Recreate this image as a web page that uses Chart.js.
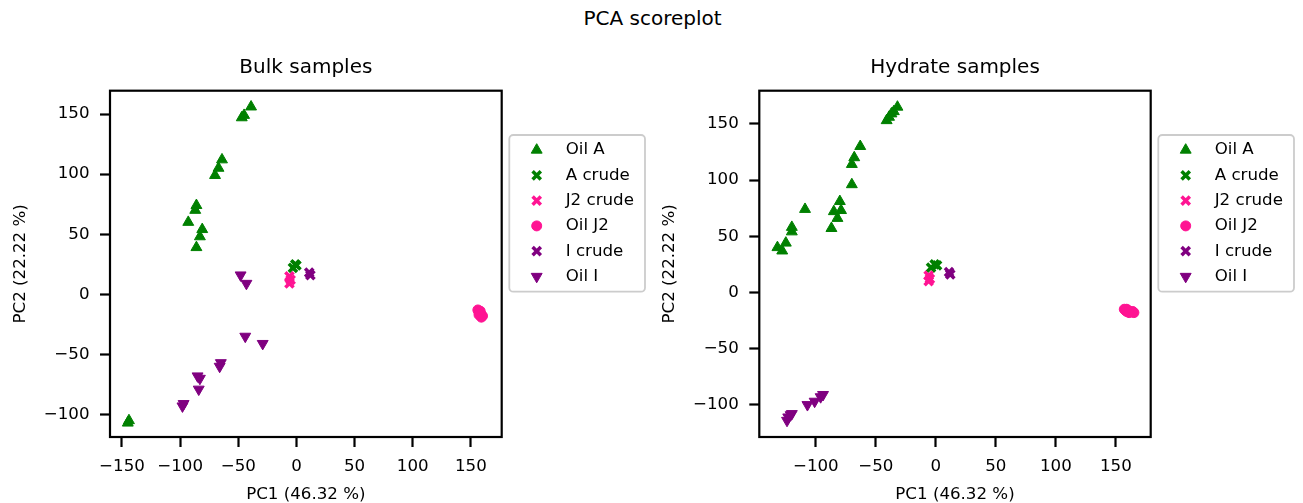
<!DOCTYPE html>
<html>
<head>
<meta charset="utf-8">
<title>PCA scoreplot</title>
<script src="https://cdn.jsdelivr.net/npm/chart.js@4.4.1/dist/chart.umd.min.js"></script>
<style>
  body { margin: 0; background: #fff; }
  #wrap { position: relative; width: 1303px; height: 503px; overflow: hidden; }
  #suptitle {
    position: absolute; left: 0; top: 6px; width: 1305px; text-align: center;
    font-family: 'DejaVu Sans', sans-serif; font-size: 20px; line-height: 24px; color: #000;
  }
  canvas { position: absolute; top: 0; }
  #bulk { left: 0; }
  #hydrate { left: 651px; }
</style>
</head>
<body>
<div id="wrap">
  <div id="suptitle">PCA scoreplot</div>
  <canvas id="bulk" width="651" height="503"></canvas>
  <canvas id="hydrate" width="652" height="503"></canvas>
</div>
<script>
'use strict';

/// DATA
let seriesNames = ['Oil A', 'A crude', 'J2 crude', 'Oil J2', 'I crude', 'Oil I'];

// Bulk samples  [PC1, PC2]
let bulkOilA = [[-39, 156], [-45, 149], [-47, 147], [-64, 112], [-67, 105], [-70, 99],
  [-86, 74], [-87, 70], [-93, 60], [-81, 54], [-83, 48], [-86, 39], [-144, -105], [-145, -107]];
let bulkACrude = [[-3, 22], [-1, 25], [0, 24]];
let bulkJ2Crude = [[-6, 15], [-5, 12], [-6, 9]];
let bulkOilJ2 = [[156, -13], [157, -15], [158, -16], [159, -17], [160, -18], [158, -14], [159, -19], [157, -17]];
let bulkICrude = [[11, 18], [12, 16]];
let bulkOilI = [[-48, 16], [-43, 9], [-44, -35], [-29, -41], [-65, -57], [-66, -60],
  [-85, -68], [-83, -70], [-84, -79], [-97, -91], [-98, -93]];

// Hydrate samples  [PC1, PC2]
let hydOilA = [[-32, 165], [-35, 161], [-37, 159], [-39, 156], [-41, 153], [-63, 130], [-68, 120],
  [-70, 114], [-70, 96], [-80, 81], [-79, 73], [-85, 72], [-82, 66], [-87, 57], [-109, 74],
  [-120, 58], [-120, 54], [-125, 44], [-132, 40], [-128, 37]];
let hydACrude = [[-4, 22], [-1, 25], [1, 24]];
let hydJ2Crude = [[-6, 15], [-5, 12], [-6, 10]];
let hydOilJ2 = [[157, -15], [158, -16], [159, -17], [160, -16], [162, -17], [164, -17], [165, -18], [161, -18], [159, -15]];
let hydICrude = [[11, 18], [12, 16]];
let hydOilI = [[-123, -111], [-124, -114], [-121, -109], [-120, -108], [-107, -100], [-101, -97], [-96, -93], [-94, -91]];

// tick labels
let bulkXTicks = [-150, -100, -50, 0, 50, 100, 150];
let bulkYTicks = [-100, -50, 0, 50, 100, 150];
let hydXTicks = [-100, -50, 0, 50, 100, 150];
let hydYTicks = [-100, -50, 0, 50, 100, 150];

/// STYLE
let FONT = 'DejaVu Sans';
let TICK_SIZE = 16.67;
let SPINE_W = 2.2;
let green = '#008000';
let pink = '#ff1493';
let purple = '#800080';

// one marker style per series, same order as seriesNames
let markerStyles = [
  { color: green, pointStyle: 'triangle', radius: 6.3, border: 1, rotation: 0 },
  { color: green, pointStyle: 'crossRot', radius: 5.8, border: 3.5, rotation: 0 },
  { color: pink, pointStyle: 'crossRot', radius: 5.8, border: 3.5, rotation: 0 },
  { color: pink, pointStyle: 'circle', radius: 5, border: 1, rotation: 0 },
  { color: purple, pointStyle: 'crossRot', radius: 5.8, border: 3.5, rotation: 0 },
  { color: purple, pointStyle: 'triangle', radius: 6.3, border: 1, rotation: 180 },
];

Chart.defaults.font.family = FONT;
Chart.defaults.color = '#000';

// HELPERS
function fmtTick(v) {
  return v < 0 ? '\u2212' + Math.abs(v) : String(v);
}

function makeDatasets(seriesList) {
  let out = [];
  for (let i = 0; i < seriesList.length; i++) {
    let st = markerStyles[i];
    out.push({
      label: seriesNames[i],
      data: seriesList[i].map(p => ({ x: p[0], y: p[1] })),
      backgroundColor: st.color,
      borderColor: st.color,
      pointStyle: st.pointStyle,
      pointRadius: st.radius,
      pointHoverRadius: st.radius,
      pointBorderWidth: st.border,
      pointRotation: st.rotation,
      order: seriesList.length - i,
    });
  }
  return out;
}

// frame round the axes (matplotlib spines)
let framePlugin = {
  id: 'frame',
  afterDatasetsDraw(chart) {
    let a = chart.chartArea;
    let ctx = chart.ctx;
    ctx.save();
    ctx.strokeStyle = '#000';
    ctx.lineWidth = SPINE_W;
    ctx.strokeRect(a.left, a.top, a.right - a.left, a.bottom - a.top);
    ctx.restore();
  }
};

// legend outside the axes, matplotlib look
let legendPlugin = {
  id: 'sideLegend',
  afterDraw(chart) {
    let a = chart.chartArea;
    let ctx = chart.ctx;
    let x0 = a.right + 7.6;
    ctx.save();
    ctx.beginPath();
    if (ctx.roundRect) {
      ctx.roundRect(x0, 135, 135.7, 156.7, 4);
    } else {
      ctx.rect(x0, 135, 135.7, 156.7);
    }
    ctx.fillStyle = 'rgba(255,255,255,0.8)';
    ctx.fill();
    ctx.strokeStyle = '#cccccc';
    ctx.lineWidth = 1.8;
    ctx.stroke();

    let sets = chart.data.datasets;
    for (let i = 0; i < sets.length; i++) {
      let ds = sets[i];
      let y = 150 + i * 25.3;
      ctx.fillStyle = ds.backgroundColor;
      ctx.strokeStyle = ds.borderColor;
      ctx.lineWidth = ds.pointBorderWidth;
      Chart.helpers.drawPoint(ctx, {
        pointStyle: ds.pointStyle,
        radius: ds.pointRadius,
        rotation: ds.pointRotation,
        borderWidth: ds.pointBorderWidth,
      }, a.right + 35, y);
      ctx.fillStyle = '#000';
      ctx.font = TICK_SIZE + 'px "' + FONT + '"';
      ctx.textAlign = 'left';
      ctx.textBaseline = 'middle';
      ctx.fillText(ds.label, a.right + 64, y);
    }
    ctx.restore();
  }
};

function axisOpts(min, max, ticks, pos, size, titleText, titlePad) {
  return {
    type: 'linear',
    position: pos,
    min: min,
    max: max,
    afterBuildTicks: s => { s.ticks = ticks.map(v => ({ value: v })); },
    afterFit: s => {
      if (pos === 'left') { s.width = size; } else { s.height = size; }
    },
    grid: {
      display: true,
      drawOnChartArea: false,
      drawTicks: true,
      tickLength: 10,
      tickWidth: SPINE_W,
      tickColor: '#000',
    },
    border: { display: false },
    ticks: {
      font: { size: TICK_SIZE },
      color: '#000',
      padding: pos === 'left' ? 10.5 : 10,
      maxRotation: 0,
      autoSkip: false,
      callback: v => fmtTick(v),
    },
    title: {
      display: true,
      text: titleText,
      font: { size: TICK_SIZE },
      color: '#000',
      padding: titlePad,
    },
  };
}

function makePanel(canvasId, cfg) {
  let ctx = document.getElementById(canvasId).getContext('2d');
  return new Chart(ctx, {
    type: 'scatter',
    data: { datasets: makeDatasets(cfg.series) },
    options: {
      responsive: false,
      animation: false,
      events: [],
      layout: { padding: { left: 0, right: cfg.padRight, top: 0, bottom: 0 } },
      plugins: {
        legend: { display: false },
        tooltip: { enabled: false },
        title: {
          display: true,
          text: cfg.title,
          fullSize: false,
          font: { size: 20, weight: 'normal' },
          color: '#000',
          padding: { top: 56, bottom: 10.7 },
        },
      },
      scales: {
        x: axisOpts(cfg.xMin, cfg.xMax, cfg.xTicks, 'bottom', 66, 'PC1 (46.32 %)', { top: 0, bottom: -2 }),
        y: axisOpts(cfg.yMin, cfg.yMax, cfg.yTicks, 'left', cfg.yWidth, 'PC2 (22.22 %)', { top: cfg.yTitlePad, bottom: 0 }),
      },
    },
    plugins: [framePlugin, legendPlugin],
  });
}

// EXECUTABLE CODE
makePanel('bulk', {
  title: 'Bulk samples',
  series: [bulkOilA, bulkACrude, bulkJ2Crude, bulkOilJ2, bulkICrude, bulkOilI],
  xMin: -160.3, xMax: 176.5, yMin: -118.7, yMax: 169.4,
  xTicks: bulkXTicks, yTicks: bulkYTicks,
  yWidth: 110, padRight: 149.3, yTitlePad: 10.8,
});

makePanel('hydrate', {
  title: 'Hydrate samples',
  series: [hydOilA, hydACrude, hydJ2Crude, hydOilJ2, hydICrude, hydOilI],
  xMin: -147.1, xMax: 179, yMin: -128.7, yMax: 179.5,
  xTicks: hydXTicks, yTicks: hydYTicks,
  yWidth: 108.3, padRight: 152.3, yTitlePad: 9.1,
});
</script>
</body>
</html>
